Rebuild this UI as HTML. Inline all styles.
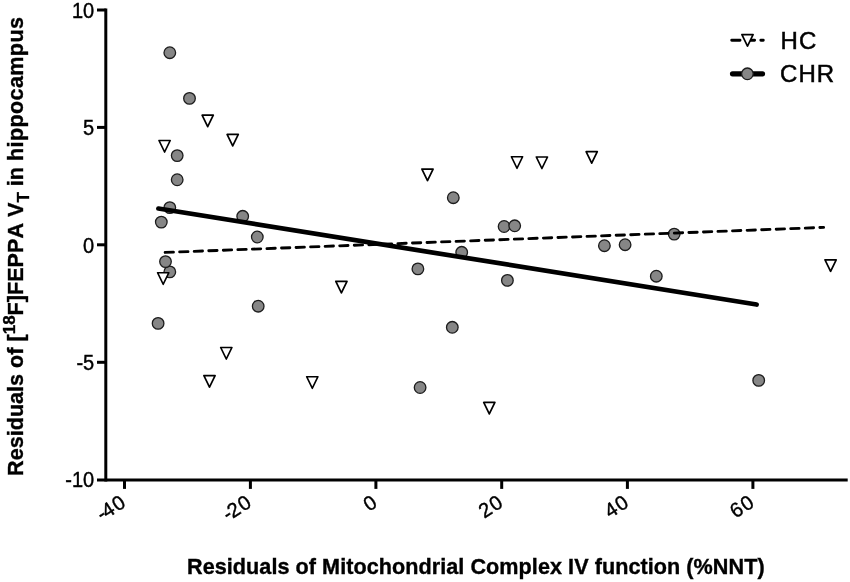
<!DOCTYPE html>
<html lang="en">
<head>
<meta charset="utf-8">
<title>Residuals scatter plot</title>
<style>
html,body{margin:0;padding:0;background:#fff;}
body{width:850px;height:582px;overflow:hidden;}
svg{display:block;will-change:transform;}
text{font-family:"Liberation Sans",Arial,Helvetica,sans-serif;fill:#000;font-kerning:none;}
.tick{font-size:20px;stroke:#000;stroke-width:0.4px;}
.xtick{font-size:20.3px;stroke:#000;stroke-width:0.4px;}
.lab{font-size:21.6px;font-weight:bold;stroke:#000;stroke-width:0.35px;}
.leg{font-size:24px;stroke:#000;stroke-width:0.5px;}
</style>
</head>
<body>
<svg width="850" height="582" viewBox="0 0 850 582">
<rect x="0" y="0" width="850" height="582" fill="#fff"/>

<g stroke="#000" stroke-width="3" fill="none" stroke-linecap="butt">
<line x1="105.8" y1="8.5" x2="105.8" y2="481.45"/>
<line x1="97" y1="479.95" x2="847.7" y2="479.95"/>
<line x1="97" y1="10" x2="105.8" y2="10"/>
<line x1="97" y1="127.4" x2="105.8" y2="127.4"/>
<line x1="97" y1="244.8" x2="105.8" y2="244.8"/>
<line x1="97" y1="362.3" x2="105.8" y2="362.3"/>
<line x1="124.5" y1="479.95" x2="124.5" y2="488.9"/>
<line x1="250.4" y1="479.95" x2="250.4" y2="488.9"/>
<line x1="375.9" y1="479.95" x2="375.9" y2="488.9"/>
<line x1="501.7" y1="479.95" x2="501.7" y2="488.9"/>
<line x1="627.4" y1="479.95" x2="627.4" y2="488.9"/>
<line x1="752.9" y1="479.95" x2="752.9" y2="488.9"/>
</g>
<text class="tick" transform="translate(94.2,10.05) scale(1,1.07)" y="7.15" text-anchor="end">10</text>
<text class="tick" transform="translate(94.2,127.40) scale(1,1.07)" y="7.15" text-anchor="end">5</text>
<text class="tick" transform="translate(94.2,245.00) scale(1,1.07)" y="7.15" text-anchor="end">0</text>
<text class="tick" transform="translate(94.2,362.40) scale(1,1.07)" y="7.15" text-anchor="end">-5</text>
<text class="tick" transform="translate(94.2,479.80) scale(1,1.07)" y="7.15" text-anchor="end">-10</text>
<text class="xtick" transform="translate(125.85,506.45) rotate(-33)" text-anchor="end" letter-spacing="1.2"><tspan dx="2.4" dy="-0.5">-</tspan><tspan dx="-2.4" dy="0.5">40</tspan></text>
<text class="xtick" transform="translate(251.75,506.45) rotate(-33)" text-anchor="end" letter-spacing="1.2"><tspan dx="2.4" dy="-0.5">-</tspan><tspan dx="-2.4" dy="0.5">20</tspan></text>
<text class="xtick" transform="translate(379.50,505.10) rotate(-33)" text-anchor="end" letter-spacing="1.2">0</text>
<text class="xtick" transform="translate(505.30,505.10) rotate(-33)" text-anchor="end" letter-spacing="1.2">20</text>
<text class="xtick" transform="translate(631.00,505.10) rotate(-33)" text-anchor="end" letter-spacing="1.2">40</text>
<text class="xtick" transform="translate(756.50,505.10) rotate(-33)" text-anchor="end" letter-spacing="1.2">60</text>
<text class="lab" x="187.0" y="574.1" textLength="577.6" lengthAdjust="spacing">Residuals of Mitochondrial Complex IV function (%NNT)</text>
<text class="lab" transform="translate(22.65,475.9) rotate(-90)">Residuals of [<tspan font-size="17" dy="-8">18</tspan><tspan dy="8">F]FEPPA V</tspan><tspan font-size="17" dy="6">T</tspan><tspan dy="-6"> in </tspan><tspan letter-spacing="0.36">hippocampus</tspan></text>
<circle cx="169.80" cy="52.70" r="5.8" fill="#868686" stroke="#1c1c1c" stroke-width="1.3"/>
<circle cx="189.50" cy="98.40" r="5.8" fill="#868686" stroke="#1c1c1c" stroke-width="1.3"/>
<circle cx="177.20" cy="155.60" r="5.8" fill="#868686" stroke="#1c1c1c" stroke-width="1.3"/>
<circle cx="177.20" cy="179.75" r="5.8" fill="#868686" stroke="#1c1c1c" stroke-width="1.3"/>
<circle cx="169.80" cy="207.60" r="5.8" fill="#868686" stroke="#1c1c1c" stroke-width="1.3"/>
<circle cx="161.30" cy="222.10" r="5.8" fill="#868686" stroke="#1c1c1c" stroke-width="1.3"/>
<circle cx="242.70" cy="216.30" r="5.8" fill="#868686" stroke="#1c1c1c" stroke-width="1.3"/>
<circle cx="257.30" cy="237.00" r="5.8" fill="#868686" stroke="#1c1c1c" stroke-width="1.3"/>
<circle cx="169.80" cy="271.90" r="5.8" fill="#868686" stroke="#1c1c1c" stroke-width="1.3"/>
<circle cx="165.50" cy="261.60" r="5.8" fill="#868686" stroke="#1c1c1c" stroke-width="1.3"/>
<circle cx="158.10" cy="323.40" r="5.8" fill="#868686" stroke="#1c1c1c" stroke-width="1.3"/>
<circle cx="258.20" cy="306.20" r="5.8" fill="#868686" stroke="#1c1c1c" stroke-width="1.3"/>
<circle cx="453.30" cy="197.70" r="5.8" fill="#868686" stroke="#1c1c1c" stroke-width="1.3"/>
<circle cx="417.90" cy="268.90" r="5.8" fill="#868686" stroke="#1c1c1c" stroke-width="1.3"/>
<circle cx="461.70" cy="252.30" r="5.8" fill="#868686" stroke="#1c1c1c" stroke-width="1.3"/>
<circle cx="504.10" cy="226.50" r="5.8" fill="#868686" stroke="#1c1c1c" stroke-width="1.3"/>
<circle cx="514.70" cy="225.80" r="5.8" fill="#868686" stroke="#1c1c1c" stroke-width="1.3"/>
<circle cx="507.40" cy="280.40" r="5.8" fill="#868686" stroke="#1c1c1c" stroke-width="1.3"/>
<circle cx="452.30" cy="327.30" r="5.8" fill="#868686" stroke="#1c1c1c" stroke-width="1.3"/>
<circle cx="420.10" cy="387.50" r="5.8" fill="#868686" stroke="#1c1c1c" stroke-width="1.3"/>
<circle cx="604.40" cy="245.70" r="5.8" fill="#868686" stroke="#1c1c1c" stroke-width="1.3"/>
<circle cx="625.10" cy="244.70" r="5.8" fill="#868686" stroke="#1c1c1c" stroke-width="1.3"/>
<circle cx="674.20" cy="234.10" r="5.8" fill="#868686" stroke="#1c1c1c" stroke-width="1.3"/>
<circle cx="656.30" cy="276.20" r="5.8" fill="#868686" stroke="#1c1c1c" stroke-width="1.3"/>
<circle cx="758.70" cy="380.40" r="5.8" fill="#868686" stroke="#1c1c1c" stroke-width="1.3"/>
<polygon points="159.00,140.50 170.20,140.50 164.60,152.00" fill="#fff" stroke="#000" stroke-width="1.7" stroke-linejoin="round"/>
<polygon points="202.10,115.20 213.30,115.20 207.70,126.70" fill="#fff" stroke="#000" stroke-width="1.7" stroke-linejoin="round"/>
<polygon points="227.10,134.45 238.30,134.45 232.70,145.95" fill="#fff" stroke="#000" stroke-width="1.7" stroke-linejoin="round"/>
<polygon points="157.60,272.75 168.80,272.75 163.20,284.25" fill="#fff" stroke="#000" stroke-width="1.7" stroke-linejoin="round"/>
<polygon points="220.70,347.50 231.90,347.50 226.30,359.00" fill="#fff" stroke="#000" stroke-width="1.7" stroke-linejoin="round"/>
<polygon points="203.90,375.55 215.10,375.55 209.50,387.05" fill="#fff" stroke="#000" stroke-width="1.7" stroke-linejoin="round"/>
<polygon points="306.70,376.75 317.90,376.75 312.30,388.25" fill="#fff" stroke="#000" stroke-width="1.7" stroke-linejoin="round"/>
<polygon points="335.80,281.30 347.00,281.30 341.40,292.80" fill="#fff" stroke="#000" stroke-width="1.7" stroke-linejoin="round"/>
<polygon points="421.90,169.05 433.10,169.05 427.50,180.55" fill="#fff" stroke="#000" stroke-width="1.7" stroke-linejoin="round"/>
<polygon points="511.40,156.75 522.60,156.75 517.00,168.25" fill="#fff" stroke="#000" stroke-width="1.7" stroke-linejoin="round"/>
<polygon points="536.30,157.00 547.50,157.00 541.90,168.50" fill="#fff" stroke="#000" stroke-width="1.7" stroke-linejoin="round"/>
<polygon points="586.10,151.70 597.30,151.70 591.70,163.20" fill="#fff" stroke="#000" stroke-width="1.7" stroke-linejoin="round"/>
<polygon points="483.70,402.40 494.90,402.40 489.30,413.90" fill="#fff" stroke="#000" stroke-width="1.7" stroke-linejoin="round"/>
<polygon points="825.00,259.80 836.20,259.80 830.60,271.30" fill="#fff" stroke="#000" stroke-width="1.7" stroke-linejoin="round"/>
<line x1="158.4" y1="208.55" x2="756.6" y2="304.55" stroke="#000" stroke-width="4.7" stroke-linecap="round"/>
<line x1="165.1" y1="252.45" x2="823.6" y2="227.4" stroke="#000" stroke-width="2.85" stroke-dasharray="8.35 6.21" stroke-linecap="round"/>
<line x1="731.7" y1="40.25" x2="763.3" y2="40.25" stroke="#000" stroke-width="2.85" stroke-dasharray="8.35 6.21" stroke-linecap="round"/>
<polygon points="741.90,34.60 753.10,34.60 747.50,46.10" fill="#fff" stroke="#000" stroke-width="1.7" stroke-linejoin="round"/>
<text class="leg" x="780.4" y="48.9" letter-spacing="1.2">HC</text>
<line x1="732.5" y1="73.85" x2="762.5" y2="73.85" stroke="#000" stroke-width="5.2" stroke-linecap="round"/>
<circle cx="747.40" cy="73.80" r="5.8" fill="#868686" stroke="#1c1c1c" stroke-width="1.3"/>
<text class="leg" x="780.1" y="82.4" letter-spacing="1">CHR</text>
</svg>
</body>
</html>
